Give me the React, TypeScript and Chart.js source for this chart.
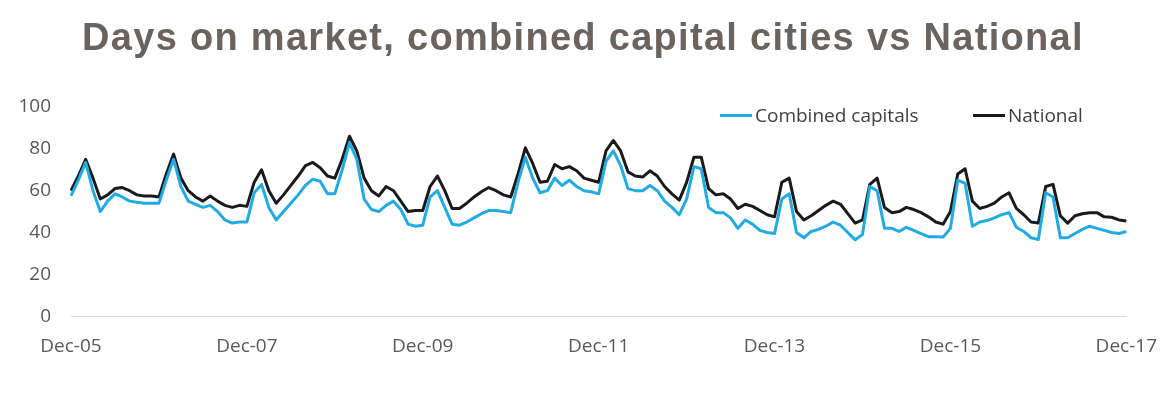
import { useEffect, useRef } from "react";
import Chart from "chart.js/auto";

// Monthly series, Dec-05 .. Dec-17 (145 points)
const combinedCapitals = [
  57.5, 65, 73.5, 60, 50, 55, 58.5, 57, 55, 54.5, 54, 54,
  54, 65, 75, 62, 55, 53.5, 52, 53, 50, 46, 44.5, 45,
  45, 59, 63, 52, 46, 50, 54, 58, 62.5, 65.5, 64.5, 58.5,
  58.5, 70, 83, 75, 56, 51, 50, 53, 55, 51, 44, 43,
  43.5, 57, 60, 52, 44, 43.5, 45, 47, 49, 50.5, 50.5, 50,
  49.5, 64, 76, 66, 59, 60, 66, 62.5, 65, 62, 60, 59.5,
  58.5, 74, 79, 72, 61, 60, 60, 62.5, 60, 55, 52, 48.5,
  56, 71.5, 70.5, 52, 49.5, 49.5, 47, 42, 46, 44, 41, 40,
  39.5, 56, 58.5, 40, 37.5, 40.5, 41.5, 43, 45, 43.5, 40, 36.5,
  39, 62, 60, 42, 42, 40.5, 42.5, 41, 39.5, 38, 38, 37.8,
  42, 65, 63.5, 43, 45, 45.7, 47, 48.5, 49.5, 42.5, 40.5, 37.5,
  36.7, 59, 57, 37.5, 37.5, 39.5, 41.5, 43, 42, 41, 40, 39.5,
  40.5,
];

const national = [
  60, 67, 75, 66, 56, 58, 61, 61.5, 60, 58, 57.5, 57.5,
  57, 68, 77.5, 66, 60, 57, 55, 57.5, 55, 53, 52, 53,
  52.5, 64, 70, 60, 54, 58, 62.5, 67, 72, 73.5, 71, 67,
  66, 75, 86, 79, 66, 60, 57.5, 62, 60, 55, 50, 50.5,
  50.5, 62, 67, 60, 51.5, 51.5, 54, 57, 59.5, 61.5, 60, 58,
  57, 68, 80.5, 73, 64, 64.5, 72.5, 70.5, 71.5, 69.5, 66, 65,
  64, 79, 84, 79, 69, 67, 66.5, 69.5, 67, 62, 58.5, 55.5,
  64, 76, 76, 61, 58, 58.5, 56, 51.5, 53.5, 52.5, 50.5, 48.5,
  47.5, 64, 66, 50, 46, 48, 50.5, 53, 55, 53.5, 49, 44.5,
  46, 63, 66, 52, 49.5, 50, 52, 51, 49.5, 47.5, 45, 44,
  50, 68, 70.5, 55, 51.5, 52.5, 54, 57, 59, 51.5, 48.5, 45,
  44.5, 62, 63, 48, 44.5, 48, 49, 49.5, 49.5, 47.5, 47.3, 46,
  45.5,
];

const monthNames = ["Jan", "Feb", "Mar", "Apr", "May", "Jun", "Jul", "Aug", "Sep", "Oct", "Nov", "Dec"];
const categories: string[] = [];
for (let i = 0; i < 145; i++) {
  const m = (11 + i) % 12;
  const y = 5 + Math.floor((11 + i) / 12);
  categories.push(`${monthNames[m]}-${String(y).padStart(2, "0")}`);
}

const tickLabels = ["Dec-05", "Dec-07", "Dec-09", "Dec-11", "Dec-13", "Dec-15", "Dec-17"];
const seriesNames = ["Combined capitals", "National"];
const seriesColors = ["#22aae2", "#1a1a1a"];

const App = () => {
  const chartRef = useRef<HTMLCanvasElement>(null);
  const chartInstance = useRef<Chart | null>(null);

  useEffect(() => {
    document.body.style.margin = "0";
    if (!chartRef.current) return;
    if (chartInstance.current) chartInstance.current.destroy();
    const ctx = chartRef.current.getContext("2d");
    if (!ctx) return;

    chartInstance.current = new Chart(ctx, {
      type: "line",
      data: {
        labels: categories,
        datasets: [
          {
            label: seriesNames[0],
            data: combinedCapitals,
            borderColor: seriesColors[0],
            borderWidth: 3,
            pointRadius: 0,
            tension: 0,
            borderJoinStyle: "round",
          },
          {
            label: seriesNames[1],
            data: national,
            borderColor: seriesColors[1],
            borderWidth: 3,
            pointRadius: 0,
            tension: 0,
            borderJoinStyle: "round",
          },
        ],
      },
      options: {
        responsive: false,
        animation: false,
        layout: { padding: { top: 107, right: 32, bottom: 55, left: 0 } },
        plugins: {
          legend: { display: false },
          tooltip: { enabled: false },
        },
        scales: {
          x: {
            offset: false,
            grid: {
              display: true,
              drawOnChartArea: false,
              drawTicks: true,
              tickLength: 16,
              tickColor: "rgba(0,0,0,0)",
            },
            border: { display: true, color: "#d9d9d9", width: 1 },
            ticks: {
              autoSkip: false,
              maxRotation: 0,
              padding: 3,
              color: "#595959",
              font: { family: "'Open Sans', sans-serif", size: 19 },
              callback: (_v, i) => (tickLabels.includes(categories[i]) ? categories[i] : ""),
            },
          },
          y: {
            min: 0,
            max: 100,
            grid: { display: false, drawTicks: false },
            border: { display: false },
            afterFit: (scale) => {
              scale.width = 71;
            },
            ticks: {
              stepSize: 20,
              padding: 20,
              color: "#595959",
              font: { family: "'Open Sans', sans-serif", size: 19 },
            },
          },
        },
      },
    });

    return () => {
      if (chartInstance.current) {
        chartInstance.current.destroy();
        chartInstance.current = null;
      }
    };
  }, []);

  const legendLeft = [720, 973];

  return (
    <div style={{ position: "fixed", top: 0, left: 0, width: 1160, height: 416, background: "#fff" }}>
      <div
        style={{
          position: "absolute",
          top: 14,
          left: 3,
          width: 1160,
          textAlign: "center",
          fontFamily: "'Liberation Sans', Arial, sans-serif",
          fontWeight: "bold",
          fontSize: 38,
          letterSpacing: 1.3,
          lineHeight: "46px",
          color: "#6b635e",
          whiteSpace: "nowrap",
        }}
      >
        Days on market, combined capital cities vs National
      </div>
      <canvas ref={chartRef} width={1160} height={416} style={{ display: "block" }} />
      {seriesNames.map((name, i) => (
        <div
          key={name}
          style={{
            position: "absolute",
            top: 104,
            left: legendLeft[i],
            height: 22,
            display: "flex",
            alignItems: "center",
            fontFamily: "'Open Sans', sans-serif",
            fontSize: 19,
            color: "#404040",
            whiteSpace: "nowrap",
          }}
        >
          <span style={{ display: "inline-block", width: 32, height: 3, background: seriesColors[i], marginRight: 3 }} />
          {name}
        </div>
      ))}
    </div>
  );
};

export default App;
